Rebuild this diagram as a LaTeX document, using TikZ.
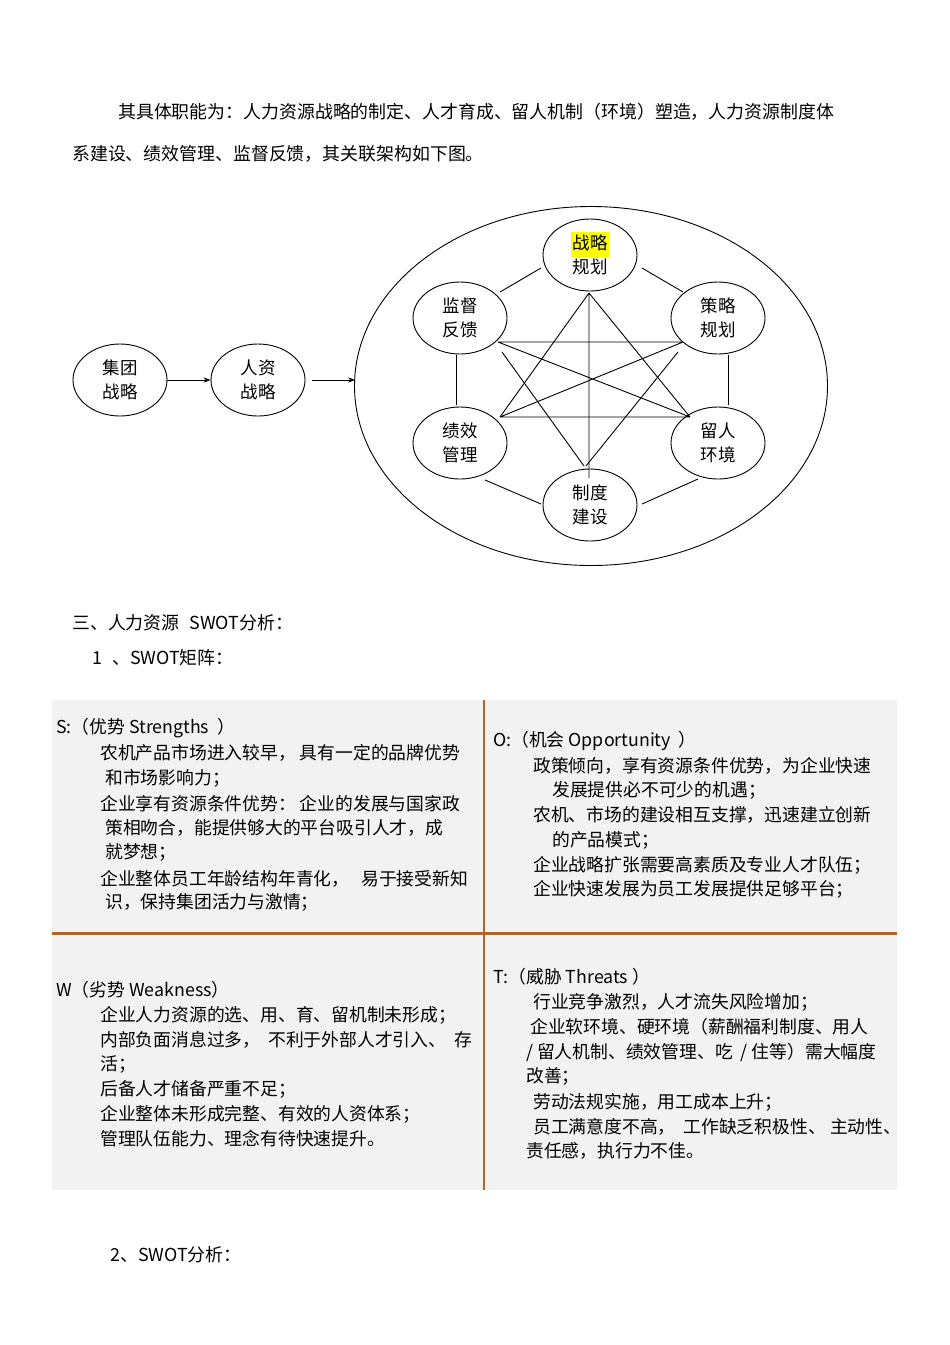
\documentclass[tikz,border=0pt]{standalone}
\usepackage{fontspec}
\setmainfont{Noto Sans CJK SC}
\usetikzlibrary{arrows.meta,shapes.geometric}
\definecolor{hl}{HTML}{FFFF00}
\definecolor{rule}{HTML}{B0652A}
\definecolor{cellbg}{HTML}{F2F2F2}
\begin{document}
\begin{tikzpicture}[x=1pt,y=-1pt,
  el/.style={draw,ellipse,minimum width=94pt,minimum height=72pt,inner sep=0pt,align=center,font=\fontsize{17.5}{24}\selectfont,line width=0.9pt},
  ln/.style={line width=0.9pt},
  tx/.style={anchor=west,inner sep=0pt,font=\fontsize{17.9}{20}\selectfont},
  tb/.style={anchor=west,inner sep=0pt,font=\fontsize{17.8}{20}\selectfont}]
\useasboundingbox (0,0) rectangle (950,1345);
\node[tx] (p1) at (118,112) {其具体职能为：人力资源战略的制定、人才育成、留人机制（环境）塑造，人力资源制度体};
\node[tx] (p2) at (72,154) {系建设、绩效管理、监督反馈，其关联架构如下图。};
% diagram
\node[draw,ellipse,minimum width=473pt,minimum height=359pt,line width=0.9pt] (outer) at (591,386) {};
\fill[hl] (571,232) rectangle (610,257);
\node[el] (a) at (590,255) {战略\\规划};
\node[el] (b) at (718,318) {策略\\规划};
\node[el] (c) at (718,443) {留人\\环境};
\node[el] (d) at (590,505) {制度\\建设};
\node[el] (e) at (460,443) {绩效\\管理};
\node[el] (f) at (460,318) {监督\\反馈};
\node[el] (g1) at (120,380) {集团\\战略};
\node[el] (g2) at (258,380) {人资\\战略};
\coordinate (oin) at (355,380);
\coordinate (g2o) at (312,380);
\draw[ln,-{Stealth[length=7pt]}] (g1) -- (g2);
\draw[ln,-{Stealth[length=7pt]}] (g2o) -- (oin);
\coordinate (a1) at (500,292); \coordinate (a2) at (541,268);
\draw[ln] (a1) -- (a2);
\coordinate (b1) at (642,268); \coordinate (b2) at (683,292);
\draw[ln] (b1) -- (b2);
\coordinate (c1) at (456,355); \coordinate (c2) at (456,405);
\draw[ln] (c1) -- (c2);
\coordinate (d1) at (728,355); \coordinate (d2) at (728,405);
\draw[ln] (d1) -- (d2);
\coordinate (e1) at (485,480); \coordinate (e2) at (541,504);
\draw[ln] (e1) -- (e2);
\coordinate (f1) at (642,504); \coordinate (f2) at (698,479);
\draw[ln] (f1) -- (f2);
\coordinate (sA) at (589,293);
\coordinate (sB1) at (683,342); \coordinate (sF1) at (498,342);
\coordinate (sE1) at (500,417); \coordinate (sC1) at (690,417);
\coordinate (sD) at (589,478);
\coordinate (sF2) at (502,352); \coordinate (sB2) at (678,352);
\coordinate (sD1) at (584,466); \coordinate (sD2) at (586,466);
\draw[ln] (sA) -- (sE1) (sA) -- (sC1) (sA) -- (sD);
\draw[ln] (sF1) -- (sB1) (sE1) -- (sC1) (sF1) -- (sC1) (sB1) -- (sE1);
\draw[ln] (sF2) -- (sD1) (sB2) -- (sD2);
% headings
\node[tx] (h1) at (72,623) {三、人力资源\hspace{10pt}SWOT分析：};
\node[tx] (h2) at (92,658) {1\hspace{10pt}、SWOT矩阵：};
\node[tx] (h3) at (110,1255) {2、SWOT分析：};
% table
\fill[cellbg] (52,700) rectangle (897,1190);
\draw[rule,line width=2pt] (484,700) -- (484,1190);
\draw[rule,line width=3pt] (52,933) -- (897,933);
\node[tb] at (56,728) {S:（优势 Strengths \ ）};
\node[tb] at (100,753) {农机产品市场进入较早， 具有一定的品牌优势};
\node[tb] at (105,778) {和市场影响力；};
\node[tb] at (100,804) {企业享有资源条件优势： 企业的发展与国家政};
\node[tb] at (105,828) {策相吻合，能提供够大的平台吸引人才，成};
\node[tb] at (105,852) {就梦想；};
\node[tb] at (100,879) {企业整体员工年龄结构年青化，\hspace{12pt}易于接受新知};
\node[tb] at (105,902) {识，保持集团活力与激情；};
\node[tb] at (493,741) {O:（机会 Opportunity \ ）};
\node[tb] at (533,766) {政策倾向，享有资源条件优势，为企业快速};
\node[tb] at (552,790) {发展提供必不可少的机遇；};
\node[tb] at (533,815) {农机、市场的建设相互支撑，迅速建立创新};
\node[tb] at (552,840) {的产品模式；};
\node[tb] at (533,865) {企业战略扩张需要高素质及专业人才队伍；};
\node[tb] at (533,889) {企业快速发展为员工发展提供足够平台；};
\node[tb] at (56,990) {W（劣势 Weakness）};
\node[tb] at (100,1015) {企业人力资源的选、用、育、留机制未形成；};
\node[tb] at (100,1040) {内部负面消息过多，\hspace{8pt}不利于外部人才引入、\hspace{8pt}存};
\node[tb] at (100,1064) {活；};
\node[tb] at (100,1089) {后备人才储备严重不足；};
\node[tb] at (100,1114) {企业整体未形成完整、有效的人资体系；};
\node[tb] at (100,1139) {管理队伍能力、理念有待快速提升。};
\node[tb] at (493,977) {T:（威胁 Threats ）};
\node[tb] at (533,1002) {行业竞争激烈，人才流失风险增加；};
\node[tb] at (530,1027) {企业软环境、硬环境（薪酬福利制度、用人};
\node[tb] at (526,1052) {/ 留人机制、绩效管理、吃\hspace{8pt}/ 住等）需大幅度};
\node[tb] at (526,1076) {改善；};
\node[tb] at (533,1102) {劳动法规实施，用工成本上升；};
\node[tb] at (533,1127) {员工满意度不高，\hspace{8pt}工作缺乏积极性、\hspace{4pt}主动性、};
\node[tb] at (526,1151) {责任感，执行力不佳。};
\end{tikzpicture}
\end{document}
